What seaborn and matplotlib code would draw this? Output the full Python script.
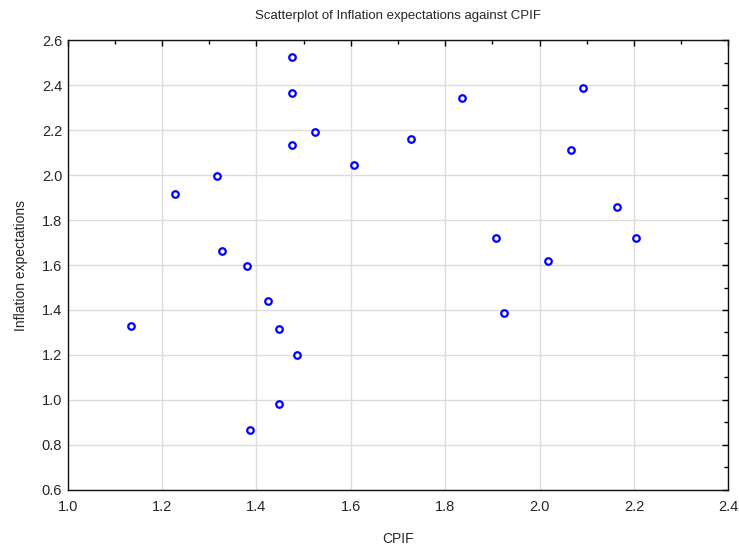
import numpy as np
import pandas as pd
import seaborn as sns
import matplotlib
matplotlib.use('Agg')
import matplotlib.pyplot as plt
from matplotlib.ticker import MultipleLocator

# -------------------- Data --------------------

cpif = [1.134, 1.228, 1.316, 1.326, 1.381, 1.387, 1.425, 1.447, 1.447, 1.475,
        1.475, 1.475, 1.485, 1.524, 1.606, 1.727, 1.836, 1.908, 1.924, 2.017,
        2.067, 2.093, 2.165, 2.204]
inflation_expectations = [1.327, 1.916, 1.997, 1.662, 1.594, 0.865, 1.441, 1.316, 0.982, 2.526,
                          2.366, 2.135, 1.200, 2.192, 2.043, 2.159, 2.342, 1.719, 1.385, 1.616,
                          2.111, 2.388, 1.858, 1.719]

df = pd.DataFrame({'CPIF': cpif, 'Inflation expectations': inflation_expectations})

# -------------------- Plot --------------------

sns.set_style('white')
plt.rcParams['font.family'] = ['Liberation Sans', 'DejaVu Sans']

fig = plt.figure(figsize=(7.39, 5.49), dpi=100)
ax = fig.add_axes([0.0916, 0.1075, 0.8939, 0.8196])

sns.scatterplot(data=df, x='CPIF', y='Inflation expectations', ax=ax,
                marker='o', s=22, facecolor='white', edgecolor='#0000ff',
                linewidth=1.6, zorder=3)

ax.set_xlim(1.0, 2.4)
ax.set_ylim(0.6, 2.6)
ax.xaxis.set_major_locator(MultipleLocator(0.2))
ax.xaxis.set_minor_locator(MultipleLocator(0.1))
ax.yaxis.set_major_locator(MultipleLocator(0.2))
ax.yaxis.set_minor_locator(MultipleLocator(0.1))
ax.xaxis.set_major_formatter(matplotlib.ticker.FormatStrFormatter('%.1f'))
ax.yaxis.set_major_formatter(matplotlib.ticker.FormatStrFormatter('%.1f'))

ax.grid(True, which='major', color='#dcdcdc', linewidth=1.0, zorder=0)
ax.tick_params(which='both', direction='in', top=True, right=True,
               color='black', labelsize=10.5, width=1.0)
ax.tick_params(which='major', length=4, pad=4)
ax.tick_params(axis='x', which='major', pad=7)
ax.tick_params(which='minor', length=3)
for sp in ax.spines.values():
    sp.set_color('#111111')
    sp.set_linewidth(1.0)

ax.set_title('Scatterplot of Inflation expectations against CPIF',
             fontsize=9.5, pad=15)
ax.set_xlabel('CPIF', fontsize=10, labelpad=13)
ax.set_ylabel('Inflation expectations', fontsize=10, labelpad=10)

fig.savefig('out.png', dpi=100)
